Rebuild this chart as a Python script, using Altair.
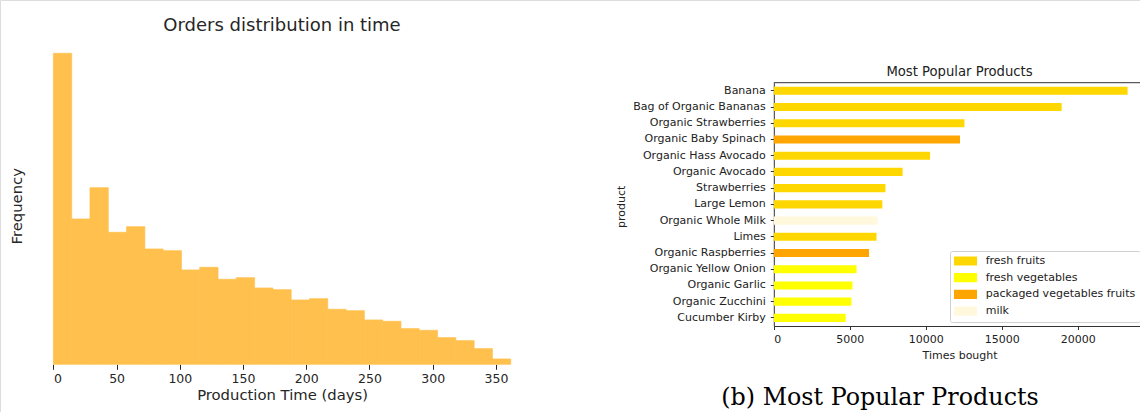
import altair as alt
import pandas as pd

# ---------------- data: left panel (histogram) ----------------
HIST_TITLE = "Orders distribution in time"
HIST_X_TITLE = "Production Time (days)"
HIST_Y_TITLE = "Frequency"
HIST_MAX_DAYS = 361.7
HIST_FREQ = [933, 436, 530, 396, 413, 346, 341, 283, 291, 255, 260, 229, 224,
             193, 197, 165, 161, 133, 129, 107, 102, 80, 71, 47, 16]
HIST_TICKS = [0, 50, 100, 150, 200, 250, 300, 350]

# ---------------- data: right panel (bars) ----------------
BAR_TITLE = "Most Popular Products"
BAR_X_TITLE = "Times bought"
BAR_Y_TITLE = "product"
PRODUCTS = ["Banana", "Bag of Organic Bananas", "Organic Strawberries",
            "Organic Baby Spinach", "Organic Hass Avocado", "Organic Avocado",
            "Strawberries", "Large Lemon", "Organic Whole Milk", "Limes",
            "Organic Raspberries", "Organic Yellow Onion", "Organic Garlic",
            "Organic Zucchini", "Cucumber Kirby"]
TIMES_BOUGHT = [23277, 18938, 12542, 12249, 10282, 8475, 7345, 7141, 6825,
                6757, 6265, 5446, 5175, 5107, 4728]
CATEGORY = ["fresh fruits", "fresh fruits", "fresh fruits",
            "packaged vegetables fruits", "fresh fruits", "fresh fruits",
            "fresh fruits", "fresh fruits", "milk", "fresh fruits",
            "packaged vegetables fruits", "fresh vegetables", "fresh vegetables",
            "fresh vegetables", "fresh vegetables"]
CATEGORY_ORDER = ["fresh fruits", "fresh vegetables",
                  "packaged vegetables fruits", "milk"]
CATEGORY_COLORS = ["#FFD700", "#FFFF00", "#FFA500", "#FFF8DC"]
BAR_TICKS = [0, 5000, 10000, 15000, 20000]
BAR_X_MAX = 24441
CAPTION = "(b) Most Popular Products"

# ---------------- tables ----------------
n_bins = len(HIST_FREQ)
bw = HIST_MAX_DAYS / n_bins
hist_df = pd.DataFrame({
    "start": [i * bw for i in range(n_bins)],
    "end": [(i + 1) * bw for i in range(n_bins)],
    "freq": HIST_FREQ,
})
bar_df = pd.DataFrame({"product": PRODUCTS, "count": TIMES_BOUGHT,
                       "category": CATEGORY})

DARK = "#262626"
FONT = "DejaVu Sans"
HIST_COLOR = "#FFC04D"

# ---------------- left panel ----------------
hist = alt.Chart(hist_df).mark_rect(
    color=HIST_COLOR, stroke=HIST_COLOR, strokeWidth=0.7
).encode(
    x=alt.X("start:Q",
            scale=alt.Scale(domain=[0, HIST_MAX_DAYS], range=[53.4, 510.7],
                            nice=False, zero=False),
            axis=alt.Axis(orient="bottom", offset=-47.7, values=HIST_TICKS,
                          domain=False, grid=False, tickSize=5,
                          tickColor=DARK, labelFontSize=12.5, labelColor=DARK,
                          labelPadding=3, labelFont=FONT,
                          title=HIST_X_TITLE, titleFontSize=14.8,
                          titleFont=FONT, titleFontWeight="normal",
                          titleColor=DARK, titlePadding=3)),
    x2="end:Q",
    y=alt.Y("freq:Q",
            scale=alt.Scale(domain=[0, max(HIST_FREQ)], range=[364.3, 53.3],
                            nice=False),
            axis=alt.Axis(orient="left", offset=-53.4, labels=False,
                          ticks=False, domain=False, grid=False,
                          title=HIST_Y_TITLE, titleX=-28.6, titleY=205.8,
                          titleFontSize=14.8, titleFont=FONT,
                          titleFontWeight="normal", titleColor=DARK,
                          titleBaseline="bottom")),
    y2=alt.datum(0),
)

# ---------------- right panel ----------------
bars = alt.Chart(bar_df).mark_bar().encode(
    x=alt.X("count:Q",
            scale=alt.Scale(domain=[0, BAR_X_MAX], range=[773.8, 1145.3],
                            nice=False),
            axis=alt.Axis(orient="bottom", offset=-86, values=BAR_TICKS,
                          format="d", grid=False, domainColor="#333333",
                          domainWidth=1, tickColor="#333333", tickSize=3.5,
                          labelFontSize=11, labelColor="#222222",
                          labelFont=FONT, labelPadding=3.5,
                          title=BAR_X_TITLE, titleFontSize=11, titleFont=FONT,
                          titleFontWeight="normal", titleColor="#222222",
                          titlePadding=5)),
    y=alt.Y("product:N", sort=PRODUCTS,
            scale=alt.Scale(range=[82.7, 326], paddingInner=0.5,
                            paddingOuter=0.25),
            axis=alt.Axis(orient="left", offset=-773.8, grid=False,
                          domainColor="#333333", domainWidth=1,
                          tickColor="#333333", tickSize=3.5,
                          labelFontSize=11, labelColor="#222222",
                          labelFont=FONT, labelPadding=5, labelLimit=300,
                          title=BAR_Y_TITLE, titleX=-147.3, titleY=206.3,
                          titleFontSize=11, titleFont=FONT,
                          titleFontWeight="normal", titleColor="#222222",
                          titleBaseline="bottom")),
    color=alt.Color("category:N",
                    scale=alt.Scale(domain=CATEGORY_ORDER,
                                    range=CATEGORY_COLORS),
                    legend=alt.Legend(orient="none", legendX=950, legendY=251,
                                      title=None, padding=4,
                                      strokeColor="#d0d0d0",
                                      fillColor="#ffffff", cornerRadius=2,
                                      symbolType="M-1,-0.4L1,-0.4L1,0.4L-1,0.4Z",
                                      symbolSize=529, symbolStrokeWidth=0,
                                      symbolOpacity=1,
                                      labelFontSize=11, labelFont=FONT,
                                      labelColor="#222222", labelOffset=8.7,
                                      rowPadding=4.7, clipHeight=12)),
)

top_spine = alt.Chart(alt.Data(values=[{"a": 0}])).mark_rule(
    color="#333333", strokeWidth=1
).encode(
    x=alt.datum(0), x2=alt.datum(BAR_X_MAX), y=alt.value(82.7)
)

bar_layer = alt.layer(bars, top_spine)


def label(text, x, y, size, font, color):
    return alt.Chart(alt.Data(values=[{"label": text}])).mark_text(
        fontSize=size, font=font, color=color, align="center",
        baseline="alphabetic"
    ).encode(text="label:N", x=alt.value(x), y=alt.value(y))


t_left = label(HIST_TITLE, 282, 30.5, 18, FONT, DARK)
t_right = label(BAR_TITLE, 959.5, 76, 13.2, FONT, "#222222")
t_caption = label(CAPTION, 880, 405, 23.8, "DejaVu Serif", "#000000")

chart = alt.layer(hist, bar_layer, t_left, t_right, t_caption).resolve_scale(
    x="independent", y="independent"
).properties(
    width=1140, height=412, padding=0,
    autosize=alt.AutoSizeParams(type="none"),
).configure_view(strokeWidth=0).configure(font=FONT)

chart.save("out.html", embed_options={"renderer": "svg", "actions": False})
